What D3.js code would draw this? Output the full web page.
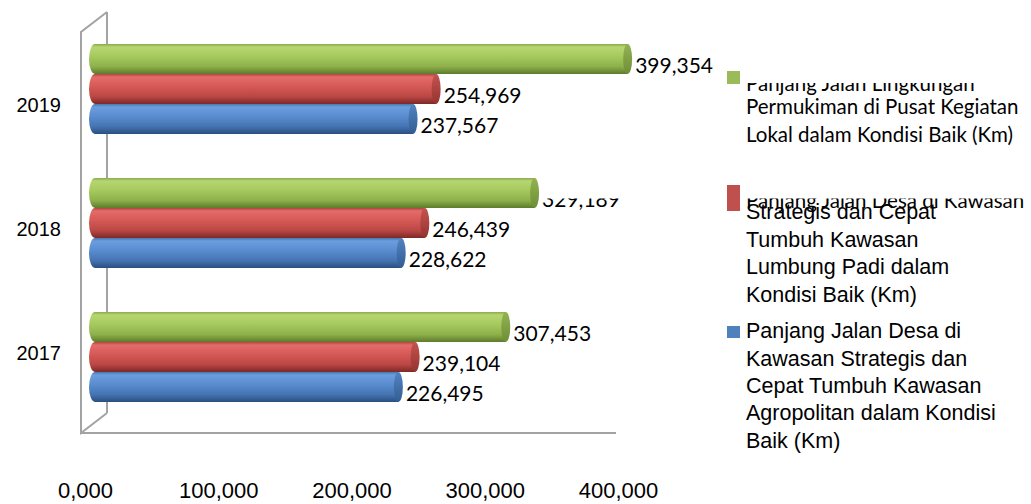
<!DOCTYPE html>
<html>
<head>
<meta charset="utf-8">
<script src="https://cdn.jsdelivr.net/npm/d3@7"></script>
<style>
  html, body { margin: 0; padding: 0; background: #fff; }
  svg { display: block; }
</style>
</head>
<body>
<svg id="chart" width="1031" height="504"></svg>
<script>
// ---------------- DATA ----------------
const years = ["2019", "2018", "2017"];
const seriesKeys = ["lingkungan", "lumbung", "agropolitan"];
const lingkunganValues = [399.354, 329.189, 307.453];
const lumbungValues = [254.969, 246.439, 239.104];
const agropolitanValues = [237.567, 228.622, 226.495];
const tickValues = [0, 100, 200, 300, 400];
const legendLines = [
  ["Panjang Jalan Lingkungan", "Permukiman di Pusat Kegiatan", "Lokal dalam Kondisi Baik (Km)"],
  ["Panjang Jalan Desa di Kawasan", "Strategis dan Cepat", "Tumbuh Kawasan", "Lumbung Padi dalam", "Kondisi Baik (Km)"],
  ["Panjang Jalan Desa di", "Kawasan Strategis dan", "Cepat Tumbuh Kawasan", "Agropolitan dalam Kondisi", "Baik (Km)"]
];

// ---------------- SETUP ----------------
const svg = d3.select("#chart");
const fmt = d3.formatLocale({decimal: ",", thousands: ".", grouping: [3], currency: ["", ""]}).format(".3f");

const valuesBySeries = [lingkunganValues, lumbungValues, agropolitanValues];
const rows = [];
years.forEach((y, i) => seriesKeys.forEach((k, j) => rows.push({year: y, key: k, s: j, value: valuesBySeries[j][i]})));

const x = d3.scaleLinear().domain([0, 400]).range([98, 628.5]);
const xFront = d3.scaleLinear().domain([0, 400]).range([85, 618]);
const y0 = d3.scaleBand().domain(years).range([22, 424]).paddingInner(44 / 134).paddingOuter(22 / 134);
const y1 = d3.scaleBand().domain(seriesKeys).range([0, y0.bandwidth()]);
// front-plane projection for category labels
const yFront = d3.scaleLinear().domain([89, 357]).range([112, 360]);

const palettes = {
  lingkungan: {stops: ["#8AA94C", "#B6D670", "#A7CA5F", "#8DB04B", "#5E7B2B"], cap: ["#93B352", "#6E8D37"], legend: "#9BBB59"},
  lumbung: {stops: ["#B04442", "#E46C69", "#D65A57", "#BB4744", "#7C2927"], cap: ["#C45350", "#95332F"], legend: "#C0504D"},
  agropolitan: {stops: ["#4677B4", "#6C9DDD", "#5A8DD1", "#4574B2", "#2A4E7F"], cap: ["#5283C1", "#335D93"], legend: "#4F81BD"}
};

const defs = svg.append("defs");
seriesKeys.forEach(k => {
  const p = palettes[k];
  const g = defs.append("linearGradient").attr("id", "grad-" + k).attr("x1", 0).attr("y1", 0).attr("x2", 0).attr("y2", 1);
  [0, 0.1, 0.4, 0.75, 1].forEach((o, i) => g.append("stop").attr("offset", o).attr("stop-color", p.stops[i]));
  const c = defs.append("linearGradient").attr("id", "cap-" + k).attr("x1", 0).attr("y1", 0).attr("x2", 0).attr("y2", 1);
  c.append("stop").attr("offset", 0).attr("stop-color", p.cap[0]);
  c.append("stop").attr("offset", 1).attr("stop-color", p.cap[1]);
});

// clip for data labels (region behind the legend box hidden)
const lc = defs.append("clipPath").attr("id", "labelClip");
lc.append("rect").attr("x", 0).attr("y", 0).attr("width", 1031).attr("height", 150);
lc.append("rect").attr("x", 0).attr("y", 150).attr("width", 540).attr("height", 50);
lc.append("rect").attr("x", 0).attr("y", 198.5).attr("width", 1031).attr("height", 306);

// ---------------- FRAME (back) ----------------
const frameColor = "#A3A3A3";
svg.append("line").attr("x1", 107).attr("y1", 12).attr("x2", 107).attr("y2", 413)
  .attr("stroke", frameColor).attr("stroke-width", 2);

// ---------------- BARS ----------------
const rx = 4.5;
const bars = svg.append("g").selectAll("g.bar").data(rows).join("g").attr("class", "bar");
bars.append("path")
  .attr("d", d => {
    const top = y0(d.year) + y1(d.key), bot = top + y1.bandwidth(), ry = y1.bandwidth() / 2;
    const xs = x(0) - 3, xe = x(d.value);
    return `M${xs},${top} L${xe},${top} L${xe},${bot} L${xs},${bot} A${6},${ry} 0 0 1 ${xs},${top} Z`;
  })
  .attr("fill", d => `url(#grad-${d.key})`);
bars.append("ellipse")
  .attr("cx", d => x(d.value))
  .attr("cy", d => y0(d.year) + y1(d.key) + y1.bandwidth() / 2)
  .attr("rx", rx).attr("ry", y1.bandwidth() / 2)
  .attr("fill", d => `url(#cap-${d.key})`);

// ---------------- FRAME (front) ----------------
const frame = svg.append("g").attr("stroke", frameColor).attr("stroke-width", 2).attr("fill", "none");
frame.append("path").attr("d", "M107,12 L81,32 L81,433 L107,413");
frame.append("line").attr("x1", 80).attr("y1", 433).attr("x2", 616).attr("y2", 433);

// ---------------- DATA LABELS ----------------
svg.append("g").attr("clip-path", "url(#labelClip)")
  .selectAll("text").data(rows).join("text")
  .attr("x", d => x(d.value) + rx + 3)
  .attr("y", d => y0(d.year) + y1(d.key) + y1.bandwidth() / 2 + 14)
  .attr("font-family", "Lato, 'Open Sans', sans-serif")
  .attr("font-size", 21)
  .attr("fill", "#000")
  .text(d => fmt(d.value));

// ---------------- CATEGORY LABELS ----------------
svg.append("g").selectAll("text").data(years).join("text")
  .attr("x", 61)
  .attr("y", d => yFront(y0(d) + y0.bandwidth() / 2))
  .attr("text-anchor", "end")
  .attr("font-family", "'Liberation Sans', Arial, sans-serif")
  .attr("font-size", 20)
  .attr("fill", "#000")
  .text(d => d);

// ---------------- VALUE AXIS ----------------
const axis = svg.append("g").attr("transform", "translate(0,482)")
  .call(d3.axisBottom(xFront).tickValues(tickValues).tickFormat(fmt).tickSize(0).tickPadding(0));
axis.select(".domain").remove();
axis.selectAll("text")
  .attr("font-family", "'Liberation Sans', Arial, sans-serif")
  .attr("font-size", 22)
  .attr("fill", "#000")
  .attr("dy", "0.71em");

// ---------------- LEGEND ----------------
const legendLayout = [
  {marker: [727, 71, 13, 13], first: {font: "Lato, sans-serif", size: 20.5, y: 91, clip: 83}, rest: {font: "Lato, sans-serif", size: 20.5, y: 114, step: 28}},
  {marker: [727, 185, 13, 26], first: {font: "Lato, sans-serif", size: 20.5, y: 208, clip: 198.5}, rest: {font: "'Liberation Sans', Arial, sans-serif", size: 21.5, y: 219, step: 27.7}},
  {marker: [727, 326, 13, 12], first: {font: "'Liberation Sans', Arial, sans-serif", size: 21.5, y: 338, clip: 0}, rest: {font: "'Liberation Sans', Arial, sans-serif", size: 21.5, y: 365.5, step: 27.4}}
];
seriesKeys.forEach((k, i) => {
  const L = legendLayout[i];
  const g = svg.append("g");
  const cid = "legClip" + i;
  defs.append("clipPath").attr("id", cid).append("rect")
    .attr("x", 700).attr("y", L.first.clip).attr("width", 331).attr("height", 504);
  const lines = legendLines[i];
  g.append("text").attr("x", 746).attr("y", L.first.y)
    .attr("font-family", L.first.font).attr("font-size", L.first.size).attr("fill", "#000")
    .attr("clip-path", `url(#${cid})`).text(lines[0]);
  g.selectAll("text.rest").data(lines.slice(1)).join("text").attr("class", "rest")
    .attr("x", 746).attr("y", (d, j) => L.rest.y + j * L.rest.step)
    .attr("font-family", L.rest.font).attr("font-size", L.rest.size).attr("fill", "#000")
    .text(d => d);
  g.append("rect").attr("x", L.marker[0]).attr("y", L.marker[1]).attr("width", L.marker[2]).attr("height", L.marker[3])
    .attr("fill", palettes[k].legend);
});
</script>
</body>
</html>
